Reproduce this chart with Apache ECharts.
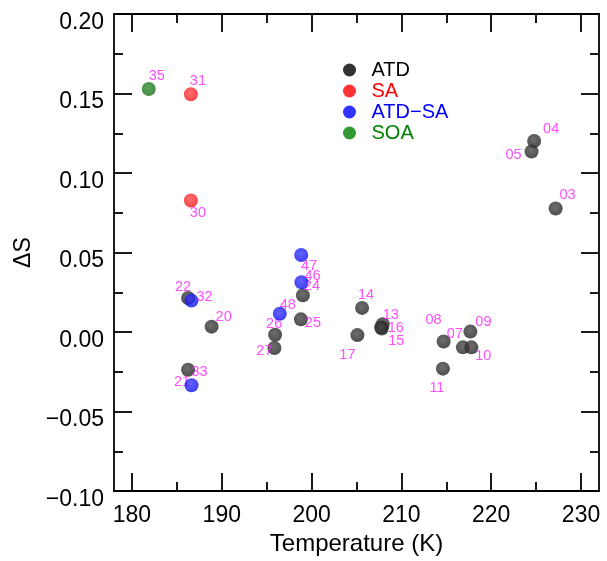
<!DOCTYPE html>
<html>
<head>
<meta charset="utf-8">
<script src="https://cdn.jsdelivr.net/npm/echarts@6/dist/echarts.min.js"></script>
<style>
  html, body { margin: 0; padding: 0; background: #fff; }
  #chart { width: 607px; height: 561px; }
</style>
</head>
<body>
<div id="chart"></div>
<script>
// Sample groups: temperature (K), ΔS and sample id
const atdId   = ['03','04','05','07','08','09','10','11','13','14','15','16','17','20','21','22','24','25','26','27'];
const atdTemp = [227.17, 224.78, 224.49, 216.85, 214.70, 217.68, 217.79, 214.62, 207.92, 205.62, 207.75, 207.81, 205.10, 188.87, 186.25, 186.25, 199.03, 198.81, 195.94, 195.86];
const atdDS   = [0.0777, 0.1201, 0.1135, -0.0096, -0.0059, 0.0003, -0.0096, -0.0230, 0.0049, 0.0152, 0.0030, 0.0022, -0.0019, 0.0034, -0.0237, 0.0214, 0.0231, 0.0080, -0.0017, -0.0100];

const saId   = ['30','31'];
const saTemp = [186.56, 186.56];
const saDS   = [0.0827, 0.1495];

const atdSaId   = ['32','33','46','47','48'];
const atdSaTemp = [186.63, 186.63, 198.87, 198.84, 196.46];
const atdSaDS   = [0.0198, -0.0334, 0.0313, 0.0485, 0.0115];

const soaId   = ['35'];
const soaTemp = [181.87];
const soaDS   = [0.1528];

const xMajorTicks = [180, 190, 200, 210, 220, 230];
const xMinorTicks = [185, 195, 205, 215, 225];

// Where each id label sits relative to its marker centre (px)
const labelShift = {
  '03': [12, -13], '04': [17, -12], '05': [-18, 3], '07': [-8, -13], '08': [-10, -21],
  '09': [13, -10], '10': [12, 9], '11': [-6, 19], '13': [8, -9], '14': [4, -13],
  '15': [15, 14], '16': [14, -1], '17': [-10, 20], '20': [12, -10], '21': [-6, 12],
  '22': [-5, -11], '24': [9, -9], '25': [12, 4], '26': [-1, -11], '27': [-10, 3],
  '30': [7, 12], '31': [7, -13], '32': [13, -4], '33': [8, -13], '35': [8, -13],
  '46': [11, -6], '47': [8, 11], '48': [8, -9]
};

const FONT = '"Liberation Sans", Arial, Helvetica, sans-serif';

function points(ids, xs, ys) {
  return ids.map((id, i) => ({
    value: [xs[i], ys[i], id],
    label: { offset: labelShift[id] || [8, -12] }
  }));
}

function ball(light, dark) {
  return {
    type: 'radial', x: 0.45, y: 0.4, r: 0.6,
    colorStops: [{ offset: 0, color: light }, { offset: 1, color: dark }]
  };
}

function scatter(name, ids, xs, ys, fill, z) {
  return {
    name: name,
    type: 'scatter',
    xAxisIndex: 0,
    yAxisIndex: 0,
    symbol: 'circle',
    symbolSize: 14,
    z: z,
    itemStyle: { color: fill },
    label: {
      show: true,
      position: 'inside',
      align: 'center',
      verticalAlign: 'middle',
      formatter: p => p.value[2],
      color: '#ff22ff',
      fontFamily: FONT,
      fontSize: 14.5
    },
    emphasis: { disabled: true },
    data: points(ids, xs, ys)
  };
}

const lineStyle = { color: '#000', width: 1.8 };

function xAxisDef(pos, ticks, len, withLabels, withLine) {
  return {
    type: 'value',
    position: pos,
    min: 178,
    max: 232,
    axisLine: { show: withLine, onZero: false, lineStyle: lineStyle },
    axisTick: { show: true, inside: true, length: len, customValues: ticks, lineStyle: lineStyle },
    axisLabel: withLabels ? {
      show: true, customValues: ticks, margin: 13,
      color: '#000', fontFamily: FONT, fontSize: 23
    } : { show: false },
    splitLine: { show: false },
    name: withLabels ? 'Temperature (K)' : '',
    nameLocation: 'middle',
    nameGap: 36,
    nameTextStyle: { color: '#000', fontFamily: FONT, fontSize: 24 }
  };
}

function yAxisDef(pos, withLabels) {
  return {
    type: 'value',
    position: pos,
    min: -0.1,
    max: 0.2,
    interval: 0.05,
    axisLine: { show: true, onZero: false, lineStyle: lineStyle },
    axisTick: { show: true, inside: true, length: 18, lineStyle: lineStyle },
    minorTick: { show: true, splitNumber: 2, length: 9, lineStyle: lineStyle },
    axisLabel: withLabels ? {
      show: true, margin: 10, verticalAlign: 'top', lineHeight: 17,
      color: '#000', fontFamily: FONT, fontSize: 23,
      formatter: v => v.toFixed(2).replace('-', '\u2212')
    } : { show: false },
    splitLine: { show: false },
    minorSplitLine: { show: false },
    name: withLabels ? 'ΔS' : '',
    nameLocation: 'middle',
    nameRotate: 90,
    nameGap: 75,
    nameTextStyle: { color: '#000', fontFamily: FONT, fontSize: 23 }
  };
}

const chart = echarts.init(document.getElementById('chart'), null, { renderer: 'canvas' });

chart.setOption({
  animation: false,
  backgroundColor: '#fff',
  grid: { left: 114, right: 8, top: 14, bottom: 64, containLabel: false },
  xAxis: [
    xAxisDef('bottom', xMajorTicks, 18, true, true),
    xAxisDef('bottom', xMinorTicks, 9, false, false),
    xAxisDef('top', xMajorTicks, 18, false, true),
    xAxisDef('top', xMinorTicks, 9, false, false)
  ],
  yAxis: [yAxisDef('left', true), yAxisDef('right', false)],
  legend: {
    orient: 'vertical',
    left: 338,
    top: 55,
    itemWidth: 34,
    itemHeight: 13,
    itemGap: 1,
    icon: 'circle',
    selectedMode: false,
    textStyle: { fontFamily: FONT, fontSize: 20, lineHeight: 20, padding: [0, 0, 0, 0] },
    data: [
      { name: 'ATD', itemStyle: { color: '#000' }, textStyle: { color: '#000' } },
      { name: 'SA', itemStyle: { color: '#ff0000' }, textStyle: { color: '#ff0000' } },
      { name: 'ATD\u2212SA', itemStyle: { color: '#0000ff' }, textStyle: { color: '#0000ff' } },
      { name: 'SOA', itemStyle: { color: '#008000' }, textStyle: { color: '#008000' } }
    ]
  },
  series: [
    scatter('ATD', atdId, atdTemp, atdDS, ball('#4a4a4a', '#222222'), 2),
    scatter('SA', saId, saTemp, saDS, ball('#ff4a4a', '#f01818'), 3),
    scatter('ATD\u2212SA', atdSaId, atdSaTemp, atdSaDS, ball('#3a3aff', '#1010ee'), 4),
    scatter('SOA', soaId, soaTemp, soaDS, ball('#2f8f2f', '#1a6f1a'), 5)
  ]
});
</script>
</body>
</html>
